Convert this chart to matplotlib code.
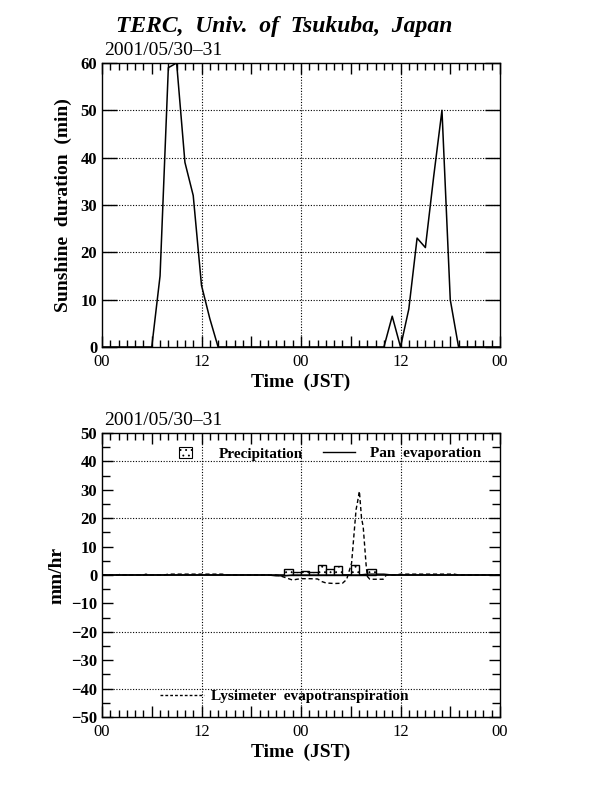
import numpy as np
import matplotlib
matplotlib.use("Agg")
import matplotlib.pyplot as plt
from matplotlib.lines import Line2D
from matplotlib.ticker import MultipleLocator

plt.rcParams["font.family"] = ["Liberation Serif", "DejaVu Serif"]
plt.rcParams["hatch.linewidth"] = 0.6

# ── data ─────────────────────────────────────────────────────────────
date_label = "2001/05/30–31"
xtick_lab = ["00", "", "12", "", "00", "", "12", "", "00"]

sun_hours = np.arange(49)
sunshine = [0, 0, 0, 0, 0, 0, 0, 15, 59, 60, 39, 32, 13, 6, 0,
            0, 0, 0, 0, 0, 0, 0, 0, 0, 0, 0, 0, 0, 0, 0, 0, 0, 0, 0,
            0, 6.5, 0, 8, 23, 21, 36, 50, 10, 0, 0, 0, 0, 0, 0]

precip_start = [22, 23, 24, 25, 26, 27, 28, 29, 30, 31, 32]
precip = [2.0, 1.0, 1.5, 1.0, 3.5, 2.0, 3.0, 0.0, 3.5, 0.0, 2.0]

pan_hours = np.arange(49)
pan_evap = [0] * 21 + [-0.3, -0.3] + [0] * 9 + [0.3, 0.3, 0.3] + [0] * 14

lys_t = [0, 2, 2.2, 2.4, 5, 5.3, 5.6, 7.5, 8, 14.5, 15, 20, 21, 21.5, 22,
         22.5, 23, 23.5, 24, 25, 26, 26.5, 27, 28, 29, 29.5, 30.1, 30.64,
         30.8, 31.04, 31.3, 31.5, 31.85, 32.0, 32.3, 33.9, 34.3, 35.5, 36,
         42.5, 43, 48]
lys = [0, 0, 0.3, 0, 0, 0.3, 0, 0, 0.3, 0.3, 0, 0, 0, -0.3, -0.8,
       -1.3, -1.8, -1.5, -1.3, -1.3, -1.4, -2.3, -2.8, -3.0, -2.9, -1.6, 4.2, 23,
       25.4, 29.5, 20, 17, 3.6, -0.5, -1.5, -1.5, 0, 0, 0.3,
       0.3, 0, 0]

# ── figure ───────────────────────────────────────────────────────────
fig = plt.figure(figsize=(6.16, 7.92), dpi=100)
ax1 = fig.add_axes([0.1656, 0.5619, 0.6461, 0.3586])
ax2 = fig.add_axes([0.1656, 0.0947, 0.6461, 0.3586])

fig.text(0.462, 0.967, "TERC,  Univ.  of  Tsukuba,  Japan", ha="center",
         va="center", fontsize=17, fontweight="bold", fontstyle="italic")

grid_kw = dict(color="black", linestyle=(0, (1, 1.5)), linewidth=0.8)


def style_axis(ax):
    ax.set_xlim(0, 48)
    ax.xaxis.set_minor_locator(MultipleLocator(1))
    ax.set_xticks(np.arange(0, 49, 6))
    ax.set_xticklabels(xtick_lab)
    ax.tick_params(axis="x", which="major", direction="in", top=True,
                   length=8, width=1, labelsize=12, pad=5)
    ax.tick_params(axis="x", which="minor", direction="in", top=True,
                   length=5, width=1)
    ax.tick_params(axis="y", which="both", direction="in", right=True,
                   width=1, labelsize=12)
    for lab in ax.get_yticklabels():
        lab.set_fontweight("bold")
    for sp in ax.spines.values():
        sp.set_linewidth(1)
    for xv in [12, 24, 36]:
        ax.axvline(xv, zorder=0, **grid_kw)
    ax.set_xlabel("Time  (JST)", fontsize=14, fontweight="bold", labelpad=3)
    ax.text(0.005, 1.015, date_label, transform=ax.transAxes, fontsize=14,
            ha="left", va="bottom")


# top: sunshine duration
ax1.plot(sun_hours, sunshine, color="black", linewidth=1.1)
ax1.set_ylim(0, 60)
ax1.yaxis.set_major_locator(MultipleLocator(10))
for yv in range(10, 60, 10):
    ax1.axhline(yv, zorder=0, **grid_kw)
style_axis(ax1)
ax1.tick_params(axis="y", which="major", length=11)
ax1.set_ylabel("Sunshine  duration  (min)", fontsize=14, fontweight="bold",
               labelpad=6)

# bottom: precipitation / evaporation
bars = ax2.bar(precip_start, precip, width=1, align="edge", color="white",
               edgecolor="black", linewidth=1, hatch="...", zorder=3)
ax2.axhline(0, color="black", linewidth=1.2, zorder=2)
pan_line, = ax2.plot(pan_hours, pan_evap, color="black", linewidth=1,
                     zorder=4)
lys_line, = ax2.plot(lys_t, lys, color="black", linewidth=1,
                     linestyle=(0, (3, 2)), zorder=4)
ax2.set_ylim(-50, 50)
ax2.yaxis.set_major_locator(MultipleLocator(10))
ax2.yaxis.set_minor_locator(MultipleLocator(5))
for yv in [40, 20, -20, -40]:
    ax2.axhline(yv, zorder=0, **grid_kw)
style_axis(ax2)
ax2.tick_params(axis="y", which="major", length=8)
ax2.tick_params(axis="y", which="minor", length=6)
ax2.set_ylabel("mm/hr", fontsize=14, fontweight="bold", labelpad=4)

leg_font = dict(family=["Liberation Serif"], weight="bold", size=11)
box = plt.Rectangle((0, 0), 1, 1, facecolor="white", edgecolor="black",
                    hatch="...", linewidth=0.8)
leg1 = ax2.legend([box], ["Precipitation"], loc="upper left",
                  bbox_to_anchor=(0.16, 1.0), frameon=False, prop=leg_font,
                  handlelength=0.8, handleheight=0.8, handletextpad=1.8)
ax2.add_artist(leg1)
leg2 = ax2.legend([Line2D([], [], color="black", linewidth=1)],
                  ["Pan  evaporation"], loc="upper left",
                  bbox_to_anchor=(0.52, 1.0), frameon=False, prop=leg_font,
                  handlelength=2.1, handletextpad=1.0)
ax2.add_artist(leg2)
ax2.legend([Line2D([], [], color="black", linewidth=1,
                   linestyle=(0, (2, 1.5)))],
           ["Lysimeter  evapotranspiration"], loc="lower left",
           bbox_to_anchor=(0.11, 0.0), frameon=False, prop=leg_font,
           handlelength=2.9, handletextpad=0.5)

fig.savefig("out.png", dpi=100)
